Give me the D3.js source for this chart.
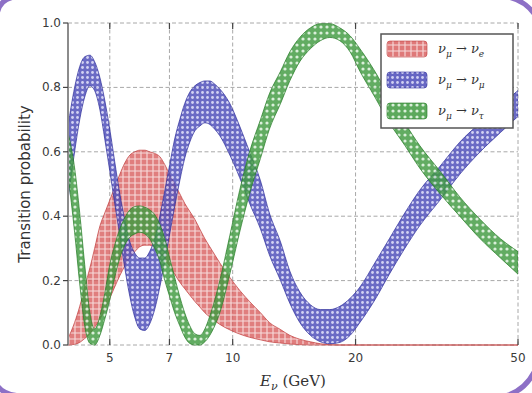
<!DOCTYPE html>
<html><head><meta charset="utf-8">
<script src="https://cdn.jsdelivr.net/npm/d3@7"></script>
<style>body{margin:0;background:#fff}svg{display:block}</style>
</head><body>
<script>
// ---- data ----
const energies = [3.95,4.10,4.22,4.34,4.47,4.59,4.73,4.86,5.0,5.14,5.29,5.44,5.60,5.76,5.92,6.09,6.26,6.44,6.63,6.82,7.01,7.21,7.42,7.63,7.85,8.08,8.31,8.55,8.79,9.04,9.30,9.84,10.4,11.0,11.7,12.3,13.1,13.8,14.6,15.5,16.4,17.3,18.3,19.4,20.5,22.3,24.2,26.4,28.7,32.2,36.0,40.4,45.3,50];
const nueUpper = [0.02,0.07,0.12,0.18,0.24,0.30,0.37,0.41,0.45,0.49,0.53,0.565,0.59,0.60,0.605,0.605,0.60,0.595,0.585,0.56,0.53,0.50,0.47,0.44,0.415,0.39,0.36,0.33,0.305,0.28,0.255,0.21,0.17,0.135,0.10,0.07,0.048,0.03,0.018,0.01,0.004,0.001,0,0,0,0,0,0,0,0,0,0,0,0];
const nueLower = [0,0.002,0.008,0.02,0.035,0.055,0.08,0.11,0.145,0.18,0.215,0.245,0.27,0.29,0.305,0.31,0.31,0.30,0.285,0.265,0.245,0.22,0.195,0.175,0.155,0.135,0.118,0.10,0.087,0.075,0.064,0.047,0.034,0.024,0.016,0.01,0.006,0.003,0.001,0,0,0,0,0,0,0,0,0,0,0,0,0,0,0];
const numuUpper = [0.68,0.80,0.865,0.895,0.90,0.88,0.83,0.76,0.67,0.57,0.47,0.39,0.32,0.285,0.27,0.27,0.29,0.33,0.40,0.48,0.56,0.64,0.70,0.75,0.785,0.805,0.815,0.82,0.82,0.81,0.795,0.75,0.68,0.60,0.51,0.41,0.32,0.23,0.165,0.125,0.11,0.11,0.12,0.145,0.18,0.255,0.33,0.41,0.48,0.555,0.63,0.69,0.745,0.79];
const numuLower = [0.45,0.60,0.70,0.77,0.805,0.79,0.73,0.64,0.54,0.44,0.34,0.24,0.15,0.085,0.05,0.045,0.065,0.11,0.18,0.26,0.345,0.43,0.51,0.58,0.63,0.665,0.68,0.69,0.685,0.67,0.65,0.59,0.52,0.44,0.36,0.28,0.20,0.13,0.07,0.03,0.01,0.004,0.008,0.03,0.07,0.14,0.22,0.30,0.37,0.45,0.53,0.60,0.66,0.71];
const nutauUpper = [0.66,0.55,0.41,0.25,0.10,0.05,0.09,0.16,0.25,0.31,0.36,0.395,0.42,0.43,0.432,0.428,0.42,0.405,0.375,0.33,0.27,0.21,0.15,0.10,0.06,0.035,0.03,0.05,0.09,0.14,0.20,0.34,0.48,0.60,0.70,0.78,0.85,0.91,0.955,0.985,0.998,0.998,0.985,0.96,0.92,0.85,0.77,0.69,0.62,0.54,0.46,0.39,0.33,0.29];
const nutauLower = [0.53,0.35,0.19,0.06,0.005,0,0.03,0.08,0.14,0.21,0.27,0.31,0.335,0.345,0.35,0.345,0.33,0.30,0.26,0.20,0.15,0.10,0.06,0.025,0.005,0,0,0.01,0.03,0.06,0.10,0.22,0.35,0.47,0.58,0.67,0.75,0.82,0.88,0.92,0.945,0.955,0.945,0.91,0.85,0.77,0.69,0.62,0.55,0.47,0.40,0.33,0.27,0.22];
const xTicks = [5,7,10,20,50];
const yTicks = [0.0,0.2,0.4,0.6,0.8,1.0];
const seriesNames = ["e","μ","τ"];

// ---- layout ----
const W=532,H=393, L=68, R=518, T=23, B=345;
const svg = d3.select("body").append("svg").attr("width",W).attr("height",H);
const x = d3.scaleLog().domain([3.95,50]).range([L,R]);
const y = d3.scaleLinear().domain([0,1]).range([B,T]);

const defs = svg.append("defs");
defs.append("clipPath").attr("id","clip").append("rect").attr("x",L).attr("y",T-2).attr("width",R-L).attr("height",B-T+3);
// hatch patterns
const pr = defs.append("pattern").attr("id","hatchR").attr("patternUnits","userSpaceOnUse").attr("width",6).attr("height",6);
pr.append("rect").attr("width",6).attr("height",6).attr("fill","#d96262");
pr.append("path").attr("d","M3,0V6M0,3H6").attr("stroke","#f6d4d4").attr("stroke-width",1.1);
const pb = defs.append("pattern").attr("id","hatchB").attr("patternUnits","userSpaceOnUse").attr("width",5).attr("height",5);
pb.append("rect").attr("width",5).attr("height",5).attr("fill","#4b4bb8");
pb.append("circle").attr("cx",2.5).attr("cy",2.5).attr("r",1.4).attr("fill","#c9c9f0");
const pg = defs.append("pattern").attr("id","hatchG").attr("patternUnits","userSpaceOnUse").attr("width",6).attr("height",6);
pg.append("rect").attr("width",6).attr("height",6).attr("fill","#3f9a3f");
pg.append("circle").attr("cx",3).attr("cy",3).attr("r",1.6).attr("fill","#d2ecd2");

// grid (dashed)
const grid = svg.append("g").attr("stroke","#a8a8a8").attr("stroke-width",1).attr("stroke-dasharray","4,2.5");
yTicks.forEach(v=>grid.append("line").attr("x1",L).attr("x2",R).attr("y1",y(v)).attr("y2",y(v)));
xTicks.forEach(v=>grid.append("line").attr("x1",x(v)).attr("x2",x(v)).attr("y1",T).attr("y2",B));

// bands
const series = [
  {lo:nueLower, hi:nueUpper, fill:"url(#hatchR)", stroke:"#c03c3c"},
  {lo:numuLower, hi:numuUpper, fill:"url(#hatchB)", stroke:"#2e2e9a"},
  {lo:nutauLower, hi:nutauUpper, fill:"url(#hatchG)", stroke:"#257a25"}
];
const bands = svg.append("g").attr("clip-path","url(#clip)");
series.forEach(s=>{
  const pts = energies.map((e,i)=>({e, lo:s.lo[i], hi:s.hi[i]}));
  const area = d3.area().x(d=>x(d.e)).y0(d=>y(d.lo)).y1(d=>y(d.hi)).curve(d3.curveMonotoneX);
  bands.append("path").datum(pts).attr("d",area).attr("fill",s.fill).attr("fill-opacity",0.82)
    .attr("stroke",s.stroke).attr("stroke-width",0.9).attr("stroke-opacity",0.8);
});

// left spine
svg.append("line").attr("x1",L).attr("x2",L).attr("y1",T).attr("y2",B).attr("stroke","#8c8c8c").attr("stroke-width",2);

// ticks
const tk = svg.append("g").attr("stroke","#444").attr("stroke-width",1.2);
yTicks.forEach(v=>tk.append("line").attr("x1",L-5).attr("x2",L).attr("y1",y(v)).attr("y2",y(v)));
xTicks.forEach(v=>{
  tk.append("line").attr("x1",x(v)).attr("x2",x(v)).attr("y1",B).attr("y2",B-6);
  tk.append("line").attr("x1",x(v)).attr("x2",x(v)).attr("y1",T).attr("y2",T+6);
});

// tick labels
const lab = svg.append("g").attr("font-family","DejaVu Sans, sans-serif").attr("font-size",12).attr("fill","#3a3a3a");
yTicks.forEach(v=>lab.append("text").attr("x",L-7).attr("y",y(v)+4).attr("text-anchor","end").text(d3.format(".1f")(v)));
xTicks.forEach(v=>lab.append("text").attr("x",x(v)).attr("y",B+17).attr("text-anchor","middle").text(v));

// axis titles
svg.append("text").attr("transform",`translate(30,${(T+B)/2}) rotate(-90)`).attr("text-anchor","middle")
  .attr("font-family","DejaVu Sans, sans-serif").attr("font-size",15).attr("fill","#333").text("Transition probability");
const xt = svg.append("text").attr("x",(L+R)/2).attr("y",386).attr("text-anchor","middle")
  .attr("font-family","DejaVu Serif, serif").attr("font-size",15).attr("fill","#333");
xt.append("tspan").attr("font-style","italic").text("E");
xt.append("tspan").attr("font-style","italic").attr("font-size",11).attr("dy",4).text("ν");
xt.append("tspan").attr("dy",-4).text(" (GeV)");

// legend
const lg = svg.append("g");
lg.append("rect").attr("x",381).attr("y",34).attr("width",132).attr("height",94).attr("fill","#fff").attr("stroke","#555").attr("stroke-width",1.5);
const fills = ["url(#hatchR)","url(#hatchB)","url(#hatchG)"];
const strokes = ["#c03c3c","#2e2e9a","#257a25"];
seriesNames.forEach((n,i)=>{
  const cy = 49 + i*31;
  lg.append("rect").attr("x",387).attr("y",cy-8).attr("width",40).attr("height",16).attr("rx",3)
    .attr("fill",fills[i]).attr("fill-opacity",0.85).attr("stroke",strokes[i]).attr("stroke-opacity",0.6);
  const t = lg.append("text").attr("x",438).attr("y",cy+4).attr("font-family","DejaVu Serif, serif").attr("font-size",13).attr("fill","#333");
  t.append("tspan").attr("font-style","italic").text("ν");
  t.append("tspan").attr("font-style","italic").attr("font-size",9).attr("dy",4).text("μ");
  t.append("tspan").attr("dy",-4).text(" → ");
  t.append("tspan").attr("font-style","italic").text("ν");
  t.append("tspan").attr("font-style","italic").attr("font-size",9).attr("dy",4).text(n);
});

// purple slide frame corners (decoration)
const fr = svg.append("g").attr("fill","none").attr("stroke","#8d70c6").attr("stroke-width",5);
fr.append("path").attr("d","M-3,15 Q-1,-1 15,-3");
fr.append("path").attr("d","M-3,385 Q3,395 22,396");
fr.append("path").attr("d","M500,397 Q526,393 537,366");
fr.append("path").attr("d","M508,-3 Q527,1 537,18");
</script>
</body></html>
